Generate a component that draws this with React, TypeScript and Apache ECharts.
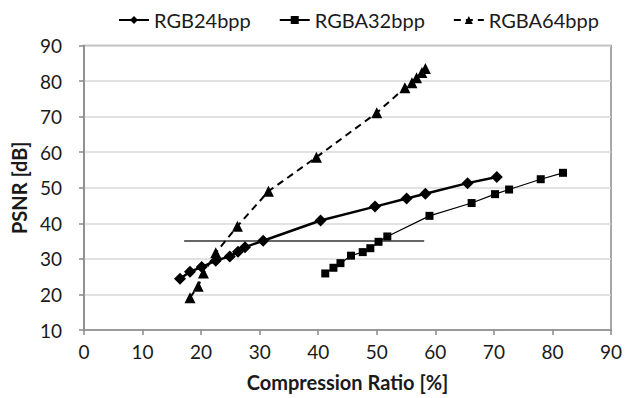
import React, { useEffect, useRef } from "react";
import * as echarts from "echarts";

const rgb24: [number, number][] = [
  [16.4, 24.4], [18.1, 26.4], [20.1, 27.7], [22.5, 29.5], [24.9, 30.7],
  [26.3, 32.0], [27.5, 33.3], [30.6, 35.1], [40.4, 40.8], [49.7, 44.7],
  [55.1, 47.0], [58.3, 48.3], [65.5, 51.3], [70.5, 53.0],
];
const rgba32: [number, number][] = [
  [41.2, 25.9], [42.6, 27.5], [43.8, 28.8], [45.6, 30.9], [47.6, 31.9],
  [48.9, 33.0], [50.3, 34.8], [51.8, 36.3], [59.0, 42.1], [66.2, 45.7],
  [70.2, 48.2], [72.6, 49.5], [78.0, 52.4], [81.8, 54.2],
];
const rgba64: [number, number][] = [
  [18.1, 19.1], [19.5, 22.3], [20.4, 26.0], [22.5, 31.7], [26.2, 39.2],
  [31.5, 49.0], [39.7, 58.6], [50.0, 71.1], [54.8, 78.1], [56.0, 79.5],
  [56.8, 80.9], [57.7, 82.4], [58.3, 83.5],
];
const refLine: [number, number][] = [[17.1, 35], [58.1, 35]];

const seriesNames = ["RGB24bpp", "RGBA32bpp", "RGBA64bpp"];
const xTitle = "Compression Ratio [%]";
const yTitle = "PSNR [dB]";

const FONT = "Lato, 'Noto Sans', sans-serif";
const TEXT = "#1a1a1a";

export default function App() {
  const ref = useRef<HTMLDivElement>(null);
  useEffect(() => {
    if (!ref.current) return;
    const chart = echarts.init(ref.current, undefined, { renderer: "svg" });
    chart.setOption({
      animation: false,
      backgroundColor: "#ffffff",
      textStyle: { fontFamily: FONT },
      legend: {
        data: seriesNames,
        top: 5,
        left: 113,
        itemWidth: 30,
        itemHeight: 10,
        itemGap: 28,
        textStyle: { fontFamily: FONT, fontSize: 20, color: TEXT },
      },
      grid: {
        left: 84,
        top: 45.5,
        width: 527,
        height: 284.5,
        show: true,
        borderColor: "#8a8a8a",
        borderWidth: 1.5,
        containLabel: false,
      },
      xAxis: {
        type: "value",
        min: 0,
        max: 90,
        interval: 10,
        name: xTitle,
        nameLocation: "middle",
        nameGap: 42,
        nameTextStyle: { fontFamily: FONT, fontSize: 20, fontWeight: "bold", color: TEXT },
        axisLine: { show: true, lineStyle: { color: "#8a8a8a", width: 1.5 } },
        axisTick: { show: true, inside: false, length: 5, lineStyle: { color: "#8a8a8a", width: 1.5 } },
        axisLabel: { fontFamily: FONT, fontSize: 19, color: TEXT, margin: 12 },
        splitLine: { show: false },
      },
      yAxis: {
        type: "value",
        min: 10,
        max: 90,
        interval: 10,
        name: yTitle,
        nameLocation: "middle",
        nameGap: 54,
        nameRotate: 90,
        nameTextStyle: { fontFamily: FONT, fontSize: 20, fontWeight: "bold", color: TEXT },
        axisLine: { show: true, lineStyle: { color: "#8a8a8a", width: 1.5 } },
        axisTick: { show: true, inside: false, length: 5, lineStyle: { color: "#8a8a8a", width: 1.5 } },
        axisLabel: { fontFamily: FONT, fontSize: 19, color: TEXT, margin: 22 },
        splitLine: { show: true, lineStyle: { color: "#d9d9d9", width: 1.5 } },
      },
      series: [
        {
          name: seriesNames[0],
          type: "line",
          data: rgb24,
          symbol: "diamond",
          symbolSize: 12,
          itemStyle: { color: "#000000" },
          lineStyle: { color: "#000000", width: 2.5 },
          z: 4,
        },
        {
          name: seriesNames[1],
          type: "line",
          data: rgba32,
          symbol: "rect",
          symbolSize: 8,
          itemStyle: { color: "#000000" },
          lineStyle: { color: "#000000", width: 1.2 },
          z: 3,
        },
        {
          name: seriesNames[2],
          type: "line",
          data: rgba64,
          symbol: "triangle",
          symbolSize: 11,
          itemStyle: { color: "#000000" },
          lineStyle: { color: "#000000", width: 2, type: [7, 5] },
          z: 3,
        },
        {
          name: "ref",
          type: "line",
          data: refLine,
          symbol: "none",
          lineStyle: { color: "#333333", width: 1.5 },
          z: 2,
        },
      ],
    });
    return () => chart.dispose();
  }, []);
  return (
    <div
      ref={ref}
      style={{ position: "fixed", left: 0, top: 0, width: 633, height: 398 }}
    />
  );
}
